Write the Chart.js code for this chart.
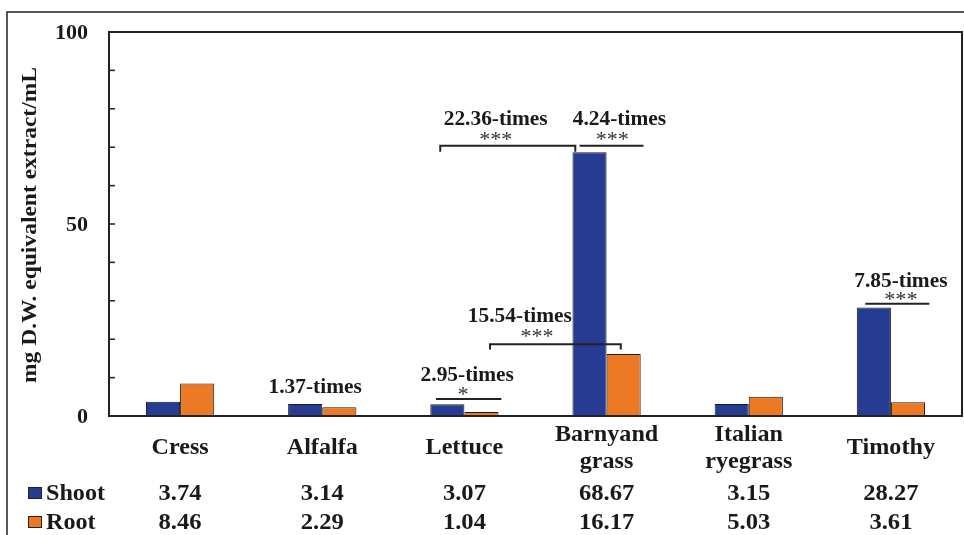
<!DOCTYPE html>
<html>
<head>
<meta charset="utf-8">
<script src="https://cdn.jsdelivr.net/npm/chart.js@4.4.0/dist/chart.umd.min.js"></script>
<style>
  html, body { margin: 0; padding: 0; background: #fff; }
</style>
</head>
<body>
<canvas id="bars" width="964" height="535"></canvas>
<script>
const categories = [['Cress'], ['Alfalfa'], ['Lettuce'], ['Barnyand', 'grass'], ['Italian', 'ryegrass'], ['Timothy']];
const shoot = [3.74, 3.14, 3.07, 68.67, 3.15, 28.27];
const root = [8.46, 2.29, 1.04, 16.17, 5.03, 3.61];
const yTicks = [0, 50, 100];
const yTitle = 'mg D.W. equivalent extract/mL';

// fold-change notes: x in category units (0 = Cress), y in data units
const foldNotes = [
  { label: '1.37-times', x: 0.95, y: 5.9 },
  { label: '2.95-times', x: 2.02, y: 9.1, stars: '*', sx: 1.99, sy: 3.9, from: 1.80, to: 2.26, at: 4.4, hook: 0 },
  { label: '15.54-times', x: 2.39, y: 24.5, stars: '***', sx: 2.51, sy: 19.1, from: 2.18, to: 3.10, at: 18.7, hook: 1.4 },
  { label: '22.36-times', x: 2.22, y: 75.8, stars: '***', sx: 2.22, sy: 70.3, from: 1.83, to: 2.78, at: 70.4, hook: 1.6 },
  { label: '4.24-times', x: 3.09, y: 75.8, stars: '***', sx: 3.04, sy: 70.3, from: 2.81, to: 3.26, at: 70.4, hook: 0 },
  { label: '7.85-times', x: 5.07, y: 33.7, stars: '***', sx: 5.07, sy: 28.6, from: 4.82, to: 5.27, at: 29.2, hook: 0 },
];

const BLUE = '#283b92';
const ORANGE = '#ec7a24';
const INK = '#1a1a1a';
const SERIF = '"Liberation Serif", "Times New Roman", serif';

// the figure's lettering is a touch wider than plain Times
function wideText(ctx, text, x, y, align, sx) {
  ctx.save();
  ctx.translate(x, y);
  ctx.scale(sx, 1);
  ctx.textAlign = align;
  ctx.fillText(text, 0, 0);
  ctx.restore();
}

const extras = {
  id: 'extras',
  afterDraw(chart) {
    const ctx = chart.ctx;
    const area = chart.chartArea;
    const xs = chart.scales.x;
    const ys = chart.scales.y;
    const catW = xs.getPixelForValue(1) - xs.getPixelForValue(0);
    const px = u => xs.getPixelForValue(0) + u * catW;

    ctx.save();
    ctx.textBaseline = 'alphabetic';

    // outer frame of the figure
    ctx.strokeStyle = '#222';
    ctx.lineWidth = 1.5;
    ctx.beginPath();
    ctx.moveTo(7, 535);
    ctx.lineTo(7, 12);
    ctx.lineTo(964, 12);
    ctx.stroke();

    // plot box
    ctx.lineWidth = 2;
    ctx.strokeRect(area.left, area.top, area.right - area.left, area.bottom - area.top);

    // minor ticks pointing inwards
    ctx.lineWidth = 1.5;
    for (let v = 10; v < 100; v += 10) {
      const y = ys.getPixelForValue(v);
      ctx.beginPath();
      ctx.moveTo(area.left, y);
      ctx.lineTo(area.left + 6, y);
      ctx.stroke();
    }

    // y tick labels
    ctx.fillStyle = INK;
    ctx.font = 'bold 21px ' + SERIF;
    yTicks.forEach(v => wideText(ctx, String(v), area.left - 21, ys.getPixelForValue(v) + 7, 'right', 1.05));

    // y title
    ctx.save();
    ctx.translate(36, 225);
    ctx.rotate(-Math.PI / 2);
    wideText(ctx, yTitle, 0, 0, 'center', 1.12);
    ctx.restore();

    // category names
    ctx.font = 'bold 23px ' + SERIF;
    categories.forEach((lines, i) => {
      const x = xs.getPixelForValue(i);
      if (lines.length === 1) {
        wideText(ctx, lines[0], x, 454, 'center', 1.05);
      } else {
        wideText(ctx, lines[0], x, 441, 'center', 1.05);
        wideText(ctx, lines[1], x, 468, 'center', 1.05);
      }
    });

    // data table with legend keys
    const rows = [['Shoot', shoot, BLUE, 500], ['Root', root, ORANGE, 529]];
    rows.forEach(([name, vals, color, base]) => {
      ctx.fillStyle = color;
      ctx.fillRect(28, base - 13, 14, 12);
      ctx.strokeStyle = '#222';
      ctx.lineWidth = 1;
      ctx.strokeRect(28.5, base - 12.5, 13, 11);
      ctx.fillStyle = INK;
      wideText(ctx, name, 46, base, 'left', 1.05);
      vals.forEach((v, i) => wideText(ctx, v.toFixed(2), xs.getPixelForValue(i), base, 'center', 1.07));
    });

    // fold-change brackets
    foldNotes.forEach(n => {
      ctx.fillStyle = INK;
      ctx.font = 'bold 20px ' + SERIF;
      wideText(ctx, n.label, px(n.x), ys.getPixelForValue(n.y), 'center', 1.07);
      if (!n.stars) return;
      ctx.fillStyle = '#333';
      ctx.font = '21px ' + SERIF;
      wideText(ctx, n.stars, px(n.sx), ys.getPixelForValue(n.sy), 'center', 1.05);
      const y = ys.getPixelForValue(n.at);
      const drop = ys.getPixelForValue(n.at - n.hook) - y;
      ctx.strokeStyle = '#222';
      ctx.lineWidth = 2;
      ctx.beginPath();
      ctx.moveTo(px(n.from), y + drop);
      ctx.lineTo(px(n.from), y);
      ctx.lineTo(px(n.to), y);
      ctx.lineTo(px(n.to), y + drop);
      ctx.stroke();
    });

    ctx.restore();
  }
};

new Chart(document.getElementById('bars'), {
  type: 'bar',
  data: {
    labels: categories.map(c => c.join(' ')),
    datasets: [
      { label: 'Shoot', data: shoot, backgroundColor: BLUE, borderColor: '#1a1a1a', borderWidth: 1 },
      { label: 'Root', data: root, backgroundColor: ORANGE, borderColor: '#1a1a1a', borderWidth: 1 },
    ]
  },
  options: {
    responsive: false,
    animation: false,
    layout: { padding: { left: 0, top: 32, right: 2, bottom: 119 } },
    datasets: { bar: { categoryPercentage: 0.48, barPercentage: 1 } },
    plugins: { legend: { display: false }, tooltip: { enabled: false } },
    scales: {
      x: { display: false },
      y: {
        min: 0,
        max: 100,
        afterBuildTicks: s => { s.ticks = yTicks.map(v => ({ value: v })); },
        afterFit: s => { s.width = 109; },
        grid: { display: false },
        border: { display: false },
        ticks: { display: false }
      }
    }
  },
  plugins: [extras]
});
</script>
</body>
</html>
